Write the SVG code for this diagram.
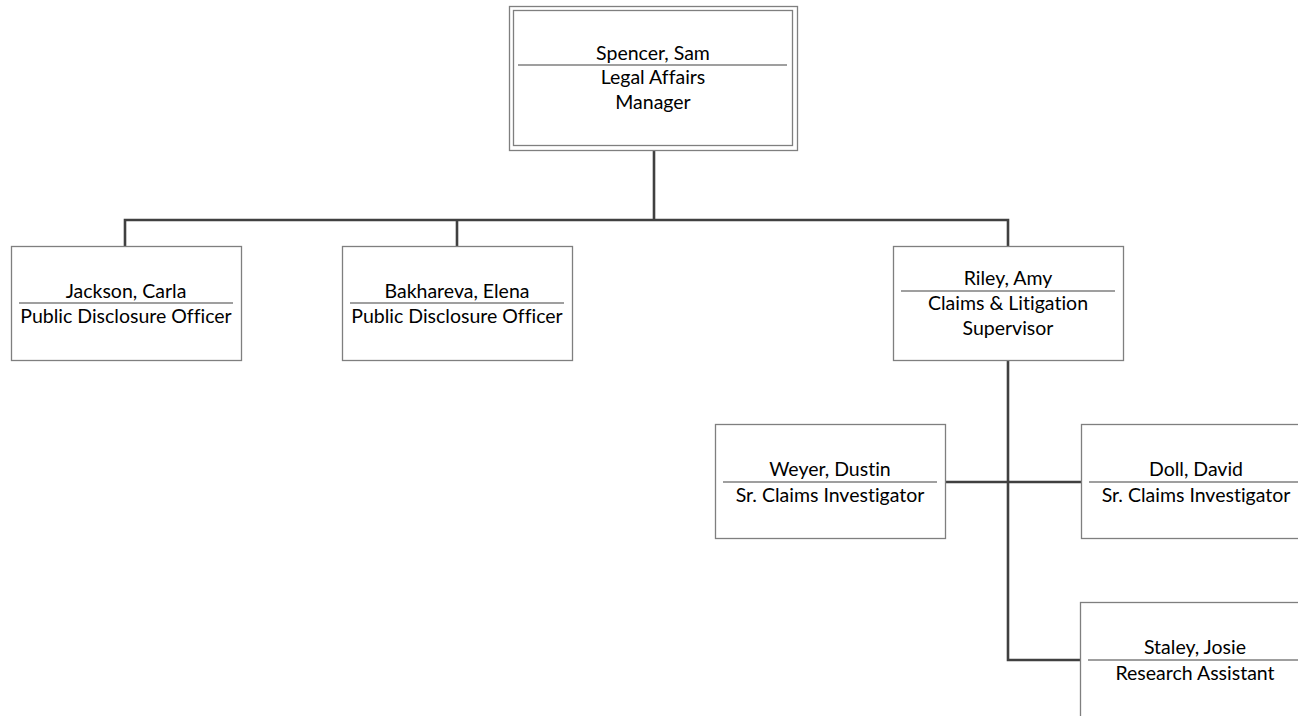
<svg xmlns="http://www.w3.org/2000/svg" width="1298" height="716" viewBox="0 0 1298 716">
<style>
.box{fill:#fff;stroke:#7f7f7f;stroke-width:1.3}
.div{stroke:#7f7f7f;stroke-width:1.3}
.con{fill:none;stroke:#404040;stroke-width:2.6}
text{font-family:Lato,"Liberation Sans",sans-serif;font-size:19.5px;fill:#000;text-anchor:middle;font-variant-ligatures:none;font-feature-settings:"liga" 0,"clig" 0}
</style>
<rect width="1298" height="716" fill="#fff"/>
<g id="connectors">
<path class="con" d="M654,150 V220 M125,246 V220 H1008 V246 M457,220 V246"/>
<path class="con" d="M1008,361 V660 H1080 M946,482 H1081"/>
</g>
<g id="spencer">
<rect class="box" x="509.5" y="6.5" width="288" height="144"/>
<rect class="box" x="513.5" y="10.5" width="279" height="135"/>
<text x="653" y="60">Spencer, Sam</text>
<line class="div" x1="518" y1="65" x2="787" y2="65"/>
<text x="653" y="84">Legal Affairs</text>
<text x="653" y="109">Manager</text>
</g>
<g id="jackson">
<rect class="box" x="11.5" y="246.5" width="230" height="114"/>
<text x="126" y="298">Jackson, Carla</text>
<line class="div" x1="19" y1="303" x2="233" y2="303"/>
<text x="126" y="323">Public Disclosure Officer</text>
</g>
<g id="bakhareva">
<rect class="box" x="342.5" y="246.5" width="230" height="114"/>
<text x="457" y="298">Bakhareva, Elena</text>
<line class="div" x1="350" y1="303" x2="564" y2="303"/>
<text x="457" y="323">Public Disclosure Officer</text>
</g>
<g id="riley">
<rect class="box" x="893.5" y="246.5" width="230" height="114"/>
<text x="1008" y="285">Riley, Amy</text>
<line class="div" x1="901" y1="291" x2="1115" y2="291"/>
<text x="1008" y="310">Claims &amp; Litigation</text>
<text x="1008" y="335">Supervisor</text>
</g>
<g id="weyer">
<rect class="box" x="715.5" y="424.5" width="230" height="114"/>
<text x="830" y="476">Weyer, Dustin</text>
<line class="div" x1="723" y1="482" x2="937" y2="482"/>
<text x="830" y="502">Sr. Claims Investigator</text>
</g>
<g id="doll">
<rect class="box" x="1081.5" y="424.5" width="230" height="114"/>
<text x="1196" y="476">Doll, David</text>
<line class="div" x1="1089" y1="482" x2="1303" y2="482"/>
<text x="1196" y="502">Sr. Claims Investigator</text>
</g>
<g id="staley">
<rect class="box" x="1080.5" y="602.5" width="230" height="120"/>
<text x="1195" y="654">Staley, Josie</text>
<line class="div" x1="1088" y1="660" x2="1302" y2="660"/>
<text x="1195" y="680">Research Assistant</text>
</g>
</svg>
